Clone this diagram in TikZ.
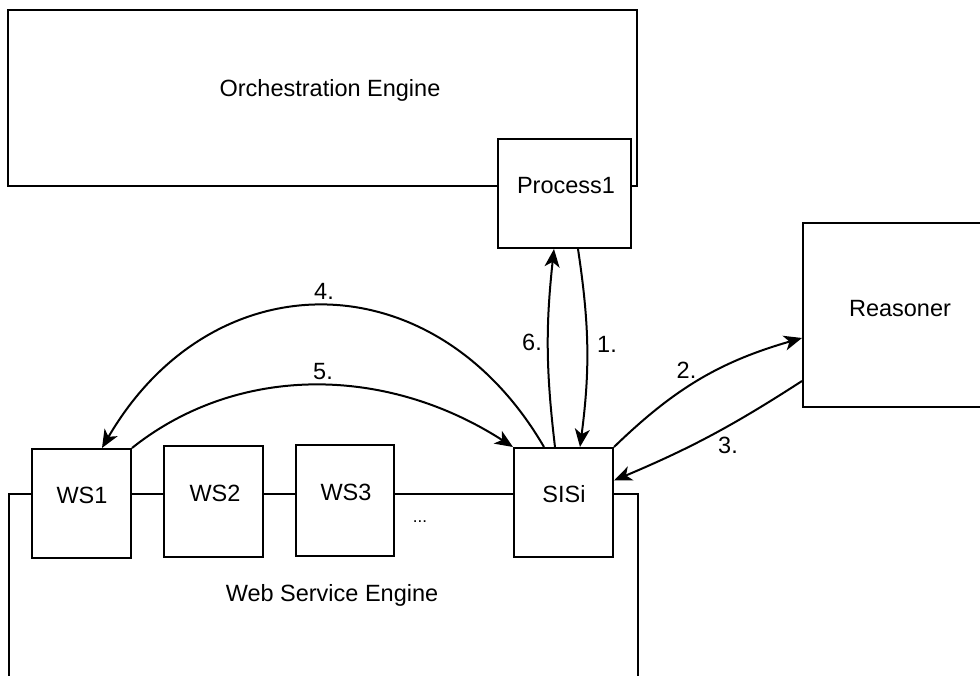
\documentclass[tikz,border=0pt]{standalone}
\usepackage{fontspec}
\setmainfont{Liberation Sans}
\usetikzlibrary{arrows.meta,calc}
\begin{document}
\begin{tikzpicture}[x=1pt,y=-1pt,
  box/.style={draw=black, line width=2pt, fill=white, rectangle, inner sep=0pt},
  txt/.style={inner sep=0pt, text height=16.8pt, text depth=0pt, font=\fontsize{23.5}{28}\selectfont},
  arr/.style={draw=black, line width=2pt, -{Stealth[length=18pt,width=15pt,inset=5pt]}},
]
\useasboundingbox (0,0) rectangle (980,675);
% containers
\node[box, minimum width=629pt, minimum height=176pt] (orch) at (322.5,98) {};
\node[box, minimum width=629pt, minimum height=226pt] (wse) at (323.5,607) {};
% inner boxes
\node[box, minimum width=133pt, minimum height=109pt] (proc) at (564.5,193.5) {};
\node[box, minimum width=194pt, minimum height=184pt] (reas) at (900,315) {};
\node[box, minimum width=99pt, minimum height=109pt] (ws1) at (81.5,503.5) {};
\node[box, minimum width=99pt, minimum height=111pt] (ws2) at (213.5,501.5) {};
\node[box, minimum width=98pt, minimum height=111pt] (ws3) at (345,500.5) {};
\node[box, minimum width=99pt, minimum height=109pt] (sisi) at (563.5,502.5) {};
% texts
\node[txt] (torch) at (330,88) {Orchestration Engine};
\node[txt] (twse) at (332,593) {Web Service Engine};
\node[txt] (tproc) at (566,185.3) {Process1};
\node[txt] (treas) at (900,308) {Reasoner};
\node[txt] (tws1) at (82,495) {WS1};
\node[txt] (tws2) at (215,493) {WS2};
\node[txt] (tws3) at (346,492.3) {WS3};
\node[txt] (tsisi) at (564,494.5) {SISi};
\node[inner sep=0pt, anchor=base, font=\fontsize{17}{20}\selectfont] (dots) at (420,522) {...};
% arrows
\draw[arr] ($(proc.south)+(13.5,0)$) to[bend left=8] ($(sisi.north)+(16.5,0)$);
\draw[arr] ($(sisi.north)+(-8.5,0)$) to[bend left=6.5] ($(proc.south)+(-10.5,0)$);
\draw[arr] ($(sisi.north)+(-19.5,0)$) .. controls +(-110,-189) and +(110,-189) .. ($(ws1.north)+(20.5,0)$);
\draw[arr] (ws1.north east) .. controls +(104,-83) and +(-129,-83) .. (sisi.north west);
\draw[arr] (sisi.north east) to[bend left=14] ($(reas.west)+(0,23)$);
\draw[arr] ($(reas.west)+(0,66)$) to[bend left=5] ($(sisi.east)+(0,-22)$);
% labels
\node[txt] (l1) at (607,344) {1.};
\node[txt] (l6) at (532,341.7) {6.};
\node[txt] (l4) at (324,291) {4.};
\node[txt] (l5) at (323,371) {5.};
\node[txt] (l2) at (686.5,370.5) {2.};
\node[txt] (l3) at (728,445.5) {3.};
\end{tikzpicture}
\end{document}
